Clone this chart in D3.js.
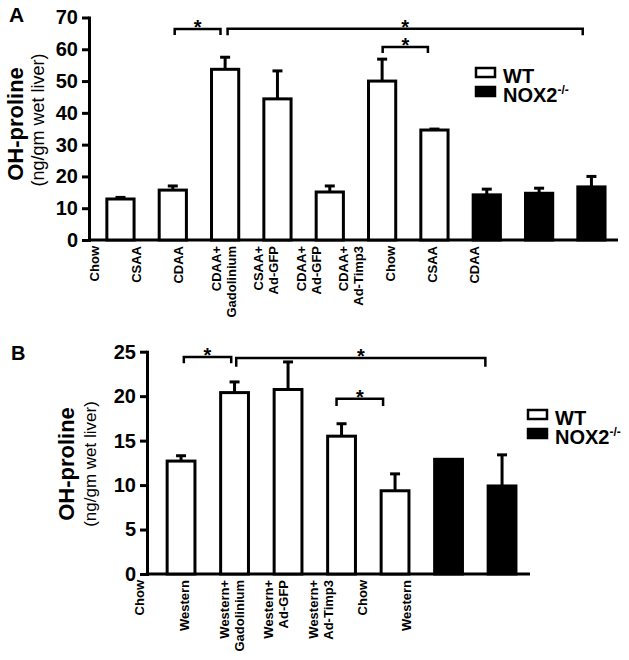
<!DOCTYPE html>
<html><head><meta charset="utf-8">
<script src="https://cdn.jsdelivr.net/npm/d3@7"></script>
<style>body{margin:0;background:#fff}svg{display:block}</style>
</head><body><svg id="c" width="629" height="660"></svg>
<script>
// ---------- data ----------
const labelsA = [["Chow"],["CSAA"],["CDAA"],["CDAA+","Gadolinium"],["CSAA+","Ad-GFP"],["CDAA+","Ad-GFP"],["CDAA+","Ad-Timp3"],["Chow"],["CSAA"],["CDAA"]];
const genotypeA = ["WT","WT","WT","WT","WT","WT","WT","NOX2","NOX2","NOX2"];
const valuesA = [12.9,15.7,53.7,44.4,15.1,50.0,34.6,14.2,14.7,16.7];
const errorsA = [0.5,1.3,3.8,8.8,1.9,6.9,0.3,1.8,1.6,3.3];
const ticksA = [0,10,20,30,40,50,60,70];
// [from, to, bracket level, tick end level, frac in from band, frac in to band]
const sigA = [[1,2,66.4,64.5,0.57,0.33],[2,9,66.5,64.4,0.59,0.18],[5,6,60.7,58.8,0.52,0.26]];

const labelsB = [["Chow"],["Western"],["Western+","Gadolinium"],["Western+","Ad-GFP"],["Western+","Ad-Timp3"],["Chow"],["Western"]];
const genotypeB = ["WT","WT","WT","WT","WT","NOX2","NOX2"];
const valuesB = [12.7,20.4,20.75,15.5,9.36,12.9,9.9];
const errorsB = [0.6,1.2,3.1,1.4,1.9,0,3.5];
const ticksB = [0,5,10,15,20,25];
const sigB = [[0,1,24.4,23.7,0.6,0.38],[1,6,24.3,23.3,0.56,-0.1],[3,4,19.7,18.9,0.32,0.07]];

const legendKeys = ["WT","NOX2"];
const legendSup = ["","-/-"];
const yTitle = "OH-proline";
const ySub = "(ng/gm wet liver)";

// ---------- drawing ----------
const FONT = "'Liberation Sans', Arial, sans-serif";
const svg = d3.select("#c");
const fillOf = g => g === "WT" ? "#fff" : "#000";

function panel(cfg, labels, geno, vals, errs, ticks, sig) {
  const g = svg.append("g").attr("font-family", FONT);
  const y = d3.scaleLinear().domain([0, d3.max(ticks)]).range([cfg.yBot, cfg.yTop]);
  const idx = d3.range(vals.length);
  const x = d3.scaleBand().domain(idx).range(cfg.band).paddingInner(0.48).paddingOuter(0.24);
  const xl = d3.scalePoint().domain(idx).range(cfg.labelRange);
  const bw = x.bandwidth();

  // y axis
  const ya = g.append("g").attr("transform", `translate(${cfg.x0},0)`)
    .call(d3.axisLeft(y).tickValues(ticks).tickSize(7).tickSizeOuter(0).tickPadding(4));
  ya.select(".domain").attr("stroke", "#000").attr("stroke-width", 3).attr("stroke-linecap", "square");
  ya.selectAll(".tick line").attr("stroke", "#000").attr("stroke-width", 3);
  ya.selectAll(".tick text").attr("font-family", FONT).attr("font-size", 20).attr("font-weight", "bold").attr("fill", "#000");

  // x axis line
  g.append("line").attr("x1", cfg.x0).attr("x2", cfg.x1).attr("y1", y(0)).attr("y2", y(0))
    .attr("stroke", "#000").attr("stroke-width", 3);

  // bars
  g.selectAll("rect.bar").data(vals).join("rect").attr("class", "bar")
    .attr("x", (d, i) => x(i)).attr("width", bw)
    .attr("y", d => y(d)).attr("height", d => y(0) - y(d))
    .attr("fill", (d, i) => fillOf(geno[i])).attr("stroke", "#000").attr("stroke-width", 3);

  // error bars (upper only)
  idx.filter(i => errs[i] > 0).forEach(i => {
    const cx = x(i) + bw / 2;
    g.append("line").attr("x1", cx).attr("x2", cx).attr("y1", y(vals[i])).attr("y2", y(vals[i] + errs[i]))
      .attr("stroke", "#000").attr("stroke-width", 3);
    g.append("line").attr("x1", cx - 5).attr("x2", cx + 5).attr("y1", y(vals[i] + errs[i])).attr("y2", y(vals[i] + errs[i]))
      .attr("stroke", "#000").attr("stroke-width", 3);
  });

  // significance brackets
  sig.forEach(([a, b, lv, lo, fa, fb]) => {
    const xa = x(a) + bw * fa, xb = x(b) + bw * fb;
    g.append("path").attr("d", `M${xa},${y(lo)}V${y(lv)}H${xb}V${y(lo)}`)
      .attr("fill", "none").attr("stroke", "#000").attr("stroke-width", 2.5);
    g.append("text").attr("x", (xa + xb) / 2).attr("y", y(lv) + 5).attr("text-anchor", "middle")
      .attr("font-size", 20).attr("font-weight", "bold").text("*");
  });

  // category labels (rotated text, lines side by side)
  labels.forEach((lines, i) => {
    const n = lines.length;
    const cx = xl(i) - 12 + (n - 1) * 3;
    lines.forEach((s, k) => {
      const bx = cx + (k - (n - 1) / 2) * cfg.lineH + 5;
      g.append("text").attr("transform", `translate(${bx},${cfg.yBot + 6}) rotate(-90)`)
        .attr("text-anchor", "end").attr("font-size", 13).attr("font-weight", "bold").text(s);
    });
  });

  // y titles
  g.append("text").attr("transform", `translate(${cfg.titleX},${cfg.titleY}) rotate(-90)`)
    .attr("text-anchor", "middle").attr("font-size", 22).attr("font-weight", "bold").text(yTitle);
  g.append("text").attr("transform", `translate(${cfg.subX},${cfg.subY}) rotate(-90)`)
    .attr("text-anchor", "middle").attr("font-size", cfg.subSize).text(ySub);

  // panel letter
  g.append("text").attr("x", cfg.letterX).attr("y", cfg.letterY).attr("font-size", cfg.letterSize)
    .attr("font-weight", "bold").text(cfg.letter);

  // legend
  legendKeys.forEach((k, j) => {
    const ly = cfg.legY + j * cfg.legStep;
    g.append("rect").attr("x", cfg.legX).attr("y", ly).attr("width", 19).attr("height", 9)
      .attr("fill", fillOf(k)).attr("stroke", "#000").attr("stroke-width", 2.5);
    const tx = g.append("text").attr("x", cfg.legX + 27).attr("y", ly + 15)
      .attr("font-size", 20).attr("font-weight", "bold").text(k);
    if (legendSup[j]) tx.append("tspan").attr("dy", -8).attr("font-size", 12).text(legendSup[j]);
  });
}

panel({x0: 89, x1: 618, yTop: 17.5, yBot: 240, band: [94.3, 617.6], labelRange: [106, 486],
       lineH: 15, titleX: 23, titleY: 124, subX: 44, subY: 120, subSize: 18,
       letter: "A", letterX: 9, letterY: 22, letterSize: 21, legX: 476, legY: 68, legStep: 19},
      labelsA, genotypeA, valuesA, errorsA, ticksA, sigA);

panel({x0: 147, x1: 530, yTop: 351.7, yBot: 574, band: [154.3, 528.8], labelRange: [151, 418],
       lineH: 15, titleX: 74, titleY: 464, subX: 96, subY: 464, subSize: 17,
       letter: "B", letterX: 11, letterY: 360, letterSize: 20, legX: 528, legY: 410, legStep: 19},
      labelsB, genotypeB, valuesB, errorsB, ticksB, sigB);
</script>
</body></html>
